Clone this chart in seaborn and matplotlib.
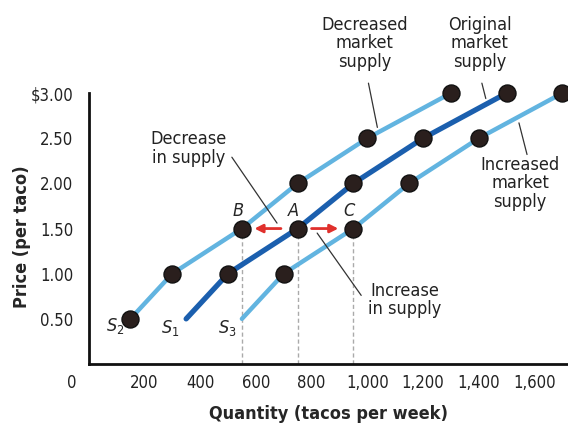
import numpy as np
import pandas as pd
import matplotlib
matplotlib.use('Agg')
import matplotlib.pyplot as plt
import seaborn as sns

# data
price = [0.5, 1.0, 1.5, 2.0, 2.5, 3.0]
decreased_q = [150, 300, 550, 750, 1000, 1300]
original_q = [350, 500, 750, 950, 1200, 1500]
increased_q = [550, 700, 950, 1150, 1400, 1700]
x_ticks = [200, 400, 600, 800, 1000, 1200, 1400, 1600]
y_ticks = [0.5, 1.0, 1.5, 2.0, 2.5, 3.0]
y_tick_labels = ['0.50', '1.00', '1.50', '2.00', '2.50', '$3.00']
shift_q = [550, 750, 950]
shift_labels = ['B', 'A', 'C']

sns.set_style('white')
plt.rcParams['font.family'] = ['DejaVu Sans']
plt.rcParams['font.stretch'] = 'condensed'

light = '#62b4e0'
dark = '#1b5fae'
dot = '#2a1f1d'

df = pd.concat([
    pd.DataFrame({'q': decreased_q, 'p': price, 'curve': 'S2'}),
    pd.DataFrame({'q': original_q, 'p': price, 'curve': 'S1'}),
    pd.DataFrame({'q': increased_q, 'p': price, 'curve': 'S3'}),
])

fig = plt.figure(figsize=(5.68, 4.28), dpi=100)
ax = fig.add_axes([0.156, 0.1495, 0.844, 0.633])

# dashed guides
for q in shift_q:
    ax.plot([q, q], [0, 1.5], ls=(0, (3, 2)), color='#aaaaaa', lw=1, zorder=1)

sns.lineplot(data=df, x='q', y='p', hue='curve', palette={'S2': light, 'S1': dark, 'S3': light},
             ax=ax, legend=False, sort=False, linewidth=3.2, zorder=2)
for line in ax.lines[3:]:
    if line.get_color() == dark:
        line.set_linewidth(3.8)

# markers (the original and increased curves have no dot at the first point)
pts = pd.concat([df[df.curve == 'S2'], df[df.curve != 'S2'].groupby('curve').apply(lambda g: g.iloc[1:])])
sns.scatterplot(data=pts, x='q', y='p', color=dot, s=150, edgecolor='#111111', linewidth=1,
                ax=ax, zorder=4, clip_on=False, legend=False)

ax.set_xlim(0, 1720)
ax.set_ylim(0, 3.0)
ax.set_xticks(x_ticks)
ax.set_xticklabels([f'{v:,}' for v in x_ticks])
ax.set_yticks(y_ticks)
ax.set_yticklabels(y_tick_labels)
ax.tick_params(axis='x', direction='in', length=11, width=1, pad=7, labelsize=12, colors='#222222')
ax.tick_params(axis='y', direction='in', length=9, width=1, pad=11, labelsize=12, colors='#222222')
for s in ['top', 'right']:
    ax.spines[s].set_visible(False)
for s in ['left', 'bottom']:
    ax.spines[s].set_linewidth(2)
    ax.spines[s].set_color('#111111')
ax.annotate('0', xy=(0, 0), xytext=(-12, -7), textcoords='offset points',
            ha='center', va='top', fontsize=12, color='#222222', annotation_clip=False)

ax.set_xlabel('Quantity (tacos per week)', fontsize=13, fontweight='bold')
ax.set_ylabel('Price (per taco)', fontsize=13, fontweight='bold')
ax.xaxis.set_label_coords(0.5, -0.15)
ax.yaxis.set_label_coords(-0.12, 0.47)

# shift arrows
red = '#e0302c'
ax.annotate('', xy=(585, 1.5), xytext=(700, 1.5),
            arrowprops=dict(arrowstyle='-|>', color=red, lw=2, mutation_scale=12))
ax.annotate('', xy=(906, 1.5), xytext=(790, 1.5),
            arrowprops=dict(arrowstyle='-|>', color=red, lw=2, mutation_scale=12))

for q, lab in zip(shift_q, shift_labels):
    ax.text(q - 15, 1.6, lab, style='italic', fontsize=13, ha='center', va='bottom')

ax.text(96, 0.42, '$S_2$', fontsize=13, ha='center', va='center')
ax.text(294, 0.40, '$S_1$', fontsize=13, ha='center', va='center')
ax.text(496, 0.40, '$S_3$', fontsize=13, ha='center', va='center')

# callouts
lead = dict(arrowstyle='-', color='#333333', lw=0.9, shrinkA=0, shrinkB=0)
callouts = [
    ('Decrease\nin supply', (359, 2.39), (514, 2.29), (676, 1.56)),
    ('Decreased\nmarket\nsupply', (989, 3.55), (1004, 3.11), (1036, 2.62)),
    ('Original\nmarket\nsupply', (1404, 3.55), (1411, 3.11), (1425, 2.94)),
    ('Increased\nmarket\nsupply', (1548, 2.0), (1573, 2.32), (1544, 2.67)),
    ('Increase\nin supply', (1133, 0.71), (978, 0.76), (820, 1.45)),
]
for txt, pos, a, b in callouts:
    ax.text(pos[0], pos[1], txt, fontsize=13, ha='center', va='center', color='#222222',
            linespacing=1.05, clip_on=False)
    ax.annotate('', xy=b, xytext=a, arrowprops=lead, annotation_clip=False)

fig.savefig('out.png', dpi=100)
